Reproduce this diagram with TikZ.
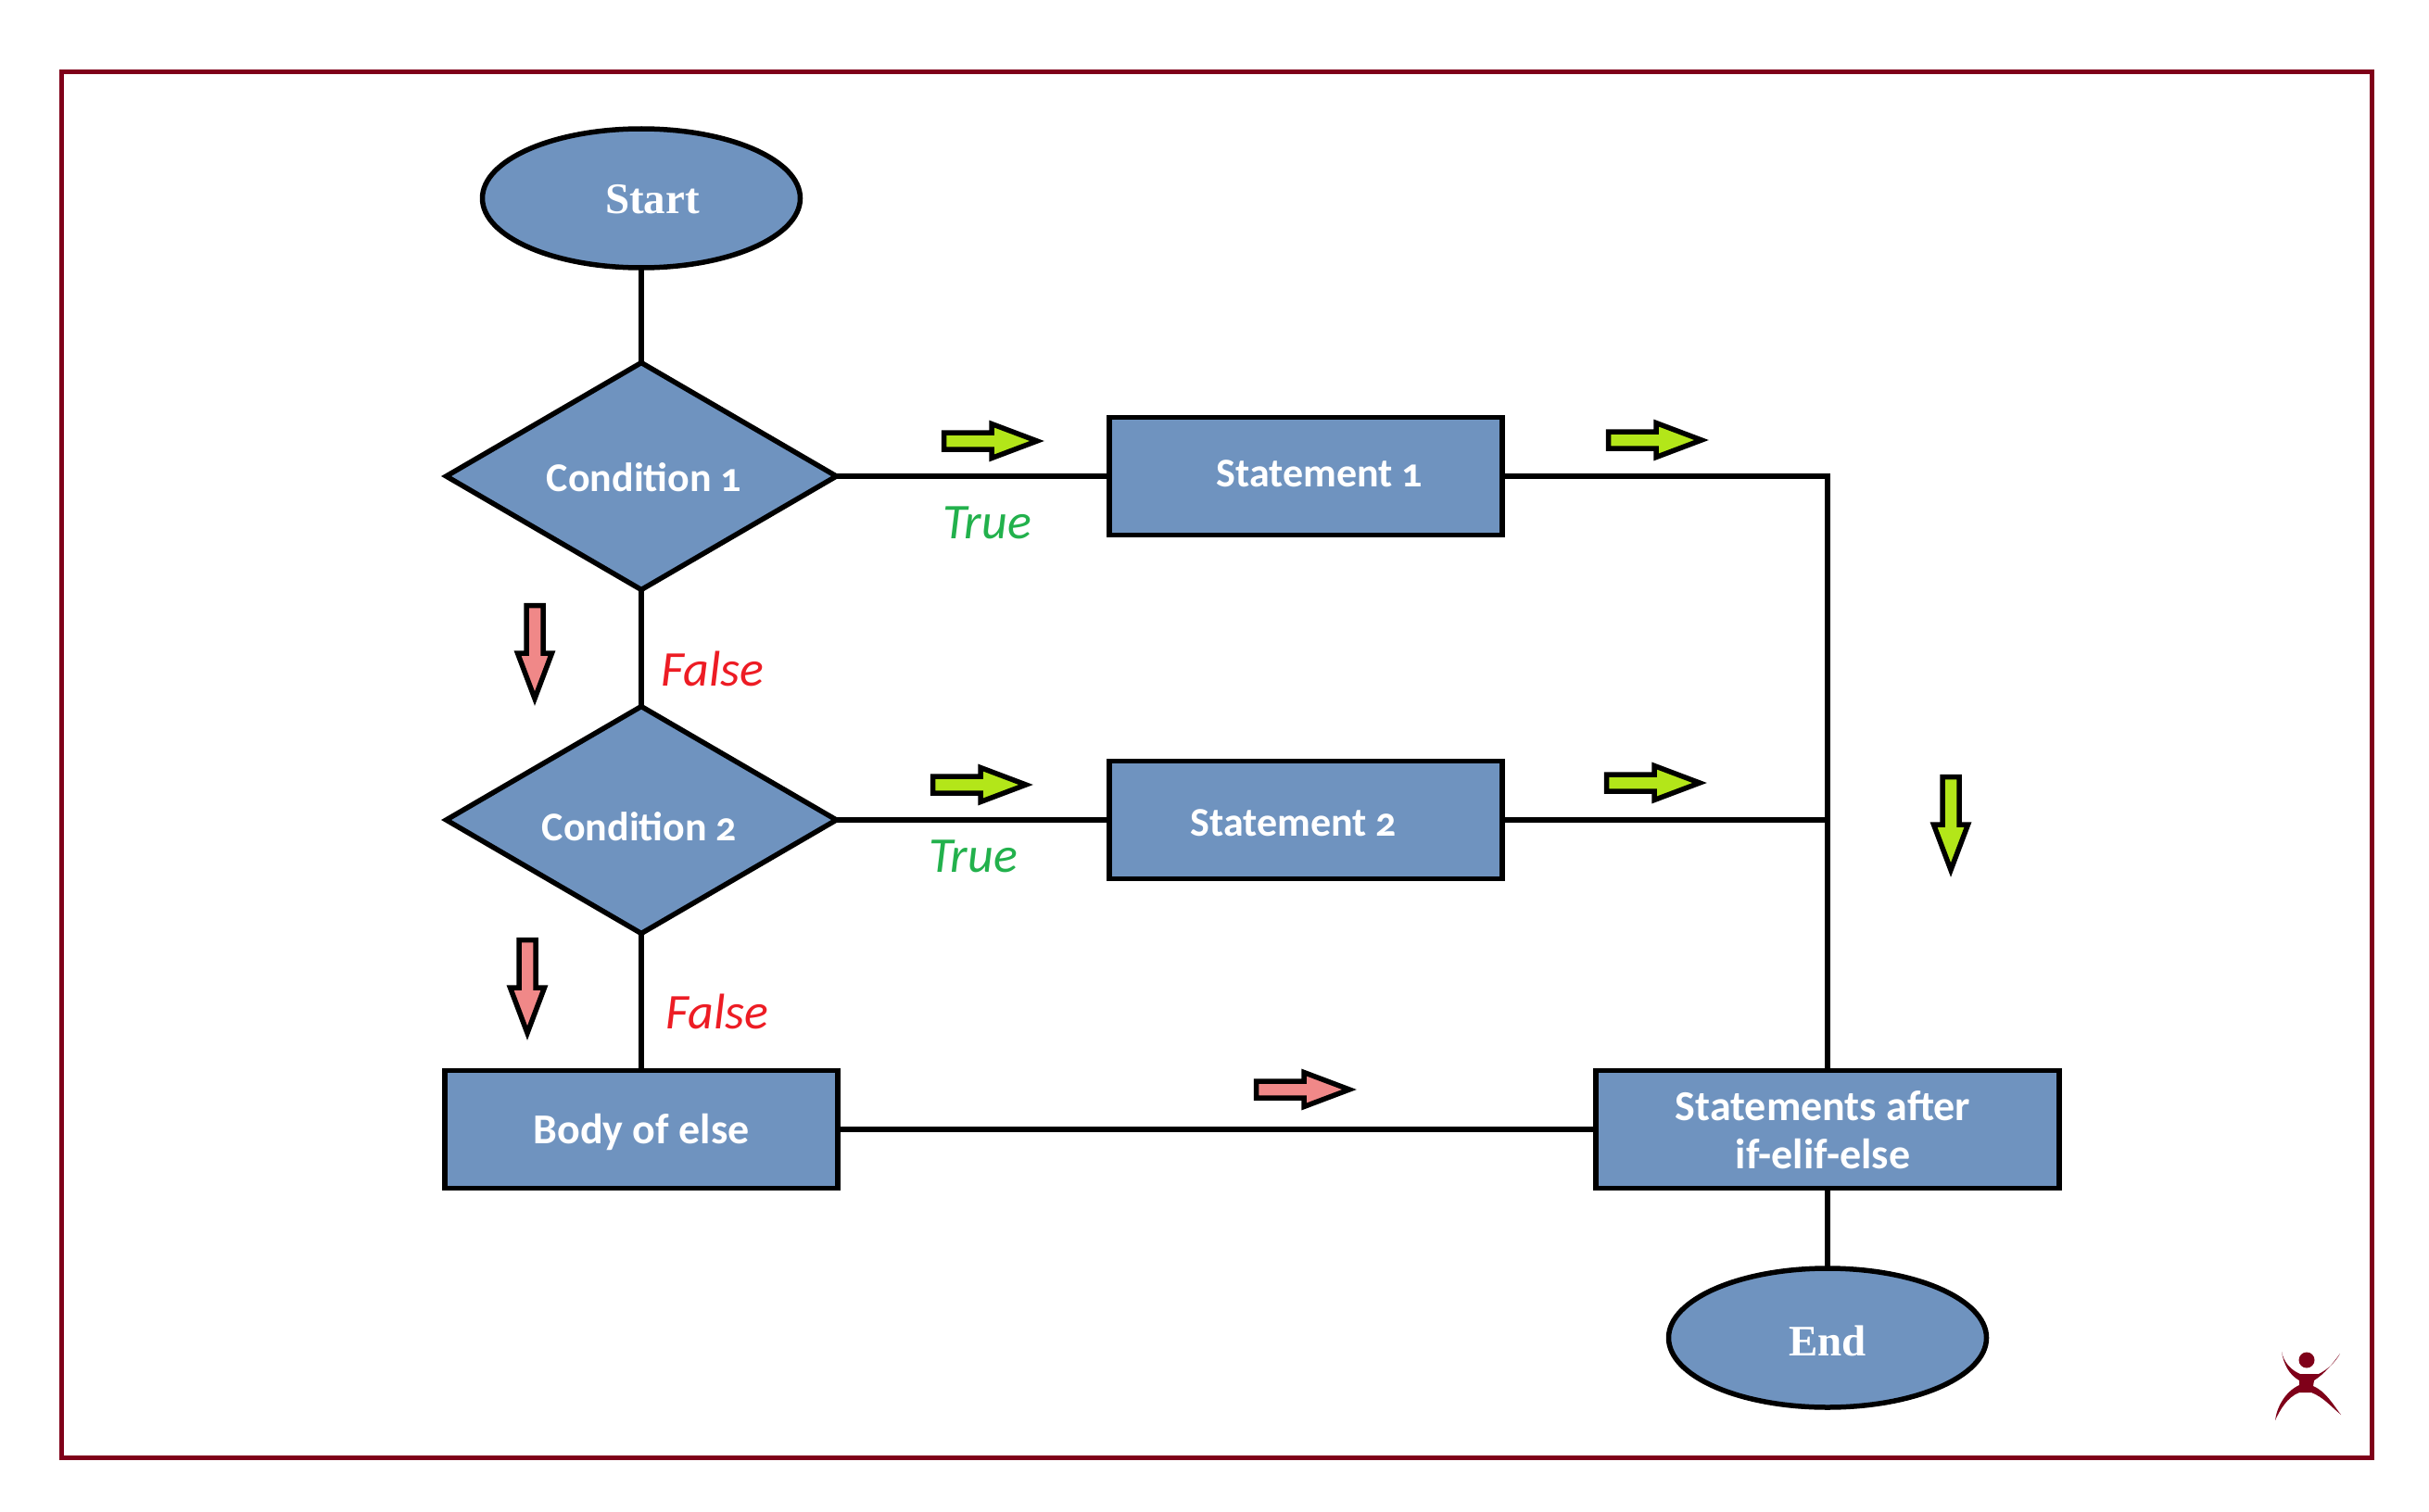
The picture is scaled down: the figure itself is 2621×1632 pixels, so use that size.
\documentclass[tikz,border=0pt]{standalone}
\usepackage{fontspec}
\setmainfont{Carlito}[Numbers=OldStyle]
\newfontfamily\serifbold{Liberation Serif}[BoldFont={* Bold}]
\usetikzlibrary{shapes.geometric}
\definecolor{boxblue}{HTML}{6F93BF}
\definecolor{framered}{HTML}{7F0019}
\definecolor{limegreen}{HTML}{B3E619}
\definecolor{pinkred}{HTML}{F08888}
\definecolor{truegreen}{HTML}{22B14C}
\definecolor{falsered}{HTML}{ED1C24}
\tikzset{
  every node/.style={outer sep=0pt,inner sep=0pt},
  shapebase/.style={draw=black,line width=5.5pt,fill=boxblue},
  oval/.style={shapebase,ellipse,minimum width=343pt,minimum height=150pt},
  decision/.style={shapebase,diamond,minimum width=421pt,minimum height=245pt},
  procbox/.style={shapebase,rectangle,minimum width=424pt,minimum height=127pt},
  lab/.style={text=white,font=\fontsize{44}{52}\selectfont\bfseries,align=center},
  bigl/.style={text=white,font=\fontsize{46}{52}\selectfont\bfseries,align=center},
  serlab/.style={text=white,font=\fontsize{47}{60}\selectfont\serifbold\bfseries},
  truelab/.style={text=truegreen,font=\fontsize{54}{60}\selectfont\itshape},
  falselab/.style={text=falsered,font=\fontsize{54}{60}\selectfont\itshape},
  conn/.style={draw=black,line width=5.5pt},
  blockline/.style={draw=black,line width=5.5pt,line join=miter,miter limit=12},
  pics/rightblock/.style={code={
    \draw[blockline,fill=#1] (2.5,-9) -- (54,-9) -- (54,-18.5) -- (103,0) -- (54,18.5) -- (54,9) -- (2.5,9) -- cycle;}},
  pics/downblock/.style={code={
    \draw[blockline,fill=#1] (-9,2.5) -- (-9,54) -- (-18.5,54) -- (0,103) -- (18.5,54) -- (9,54) -- (9,2.5) -- cycle;}},
}
\begin{document}
\begin{tikzpicture}[x=1pt,y=-1pt]
\path[use as bounding box,fill=white] (0,0) rectangle (2621,1632);
\draw[framered,line width=5pt] (66,78) rectangle (2559.5,1573);

\node[oval,label={[serlab,xshift=12pt,yshift=-1pt]center:Start}] (start) at (692,214) {};
\node[decision,label={[lab,xshift=3pt,yshift=-1pt]center:Condition 1}] (c1) at (692,514) {};
\node[decision,label={[lab,xshift=-2pt,yshift=-7pt]center:Condition 2}] (c2) at (692,885) {};
\node[procbox,label={[lab,xshift=15pt,yshift=3pt]center:Statement 1}] (s1) at (1409,514) {};
\node[procbox,label={[lab,xshift=-13pt,yshift=-3pt]center:Statement 2}] (s2) at (1409,885) {};
\node[procbox,label={[bigl,yshift=-3pt]center:Body of else}] (body) at (692,1219) {};
\node[procbox,minimum width=500pt,label={[bigl,xshift=-5pt,yshift=-1pt]center:Statements after\\if-elif-else}] (after) at (1972,1219) {};
\node[oval,label={[serlab,yshift=-3pt]center:End}] (finish) at (1972,1444) {};

\draw[conn] (start) -- (c1);
\draw[conn] (c1) -- (s1);
\draw[conn] (c1) -- (c2);
\draw[conn] (c2) -- (s2);
\draw[conn] (c2) -- (body);
\draw[conn] (s1.east) -| (after.north);
\draw[conn] (s2.east) -- (s2.east -| after.north);
\draw[conn] (body) -- (body -| after.west);
\draw[conn] (after) -- (finish);

\node[truelab] (t1) at (1065,564) {True};
\node[truelab] (t2) at (1050,924) {True};
\node[falselab] (f1) at (769,722) {False};
\node[falselab] (f2) at (774,1092) {False};

\pic at (1016,476) {rightblock=limegreen};
\pic at (1004,847) {rightblock=limegreen};
\pic at (1733,475) {rightblock=limegreen};
\pic at (1731,845) {rightblock=limegreen};
\pic at (1353,1176) {rightblock=pinkred};
\pic at (577,651) {downblock=pinkred};
\pic at (569,1012) {downblock=pinkred};
\pic at (2105,836) {downblock=limegreen};

\fill[framered] (2489,1468) circle (8.5);
\fill[framered] (2462,1459) .. controls (2464,1470) and (2472,1479) .. (2482,1483)
  -- (2502,1483) .. controls (2512,1478) and (2520,1470) .. (2525,1461)
  .. controls (2517,1472) and (2508,1483) .. (2497,1490)
  -- (2496,1496) .. controls (2510,1502) and (2518,1517) .. (2526,1527)
  .. controls (2515,1518) and (2507,1508) .. (2494,1503)
  -- (2481,1503) .. controls (2468,1508) and (2460,1522) .. (2455,1533)
  .. controls (2457,1518) and (2466,1502) .. (2481,1495)
  -- (2481,1490) .. controls (2470,1484) and (2464,1472) .. (2462,1459) -- cycle;
\end{tikzpicture}
\end{document}
